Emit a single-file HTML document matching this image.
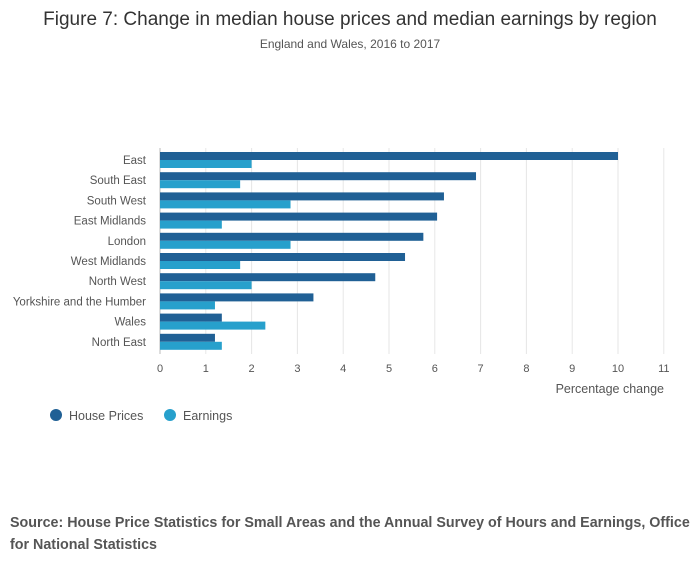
<!DOCTYPE html>
<html><head><meta charset="utf-8"><style>
body{margin:0;width:700px;height:574px;background:#fff;font-family:"Liberation Sans",sans-serif;overflow:hidden}
</style></head><body>
<svg width="700" height="574" xmlns="http://www.w3.org/2000/svg">
<text x="350" y="25" text-anchor="middle" font-size="19" fill="#333">Figure 7: Change in median house prices and median earnings by region</text>
<text x="350" y="48" text-anchor="middle" font-size="12" fill="#555">England and Wales, 2016 to 2017</text>
<g id="grid"></g><g id="bars"></g><g id="labels"></g>
<text x="664" y="393" text-anchor="end" font-size="12.5" fill="#555">Percentage change</text>
<circle cx="56" cy="415" r="6" fill="#206095"/>
<text x="69" y="420" font-size="12.5" fill="#555">House Prices</text>
<circle cx="170" cy="415" r="6" fill="#27a0cc"/>
<text x="183" y="420" font-size="12.5" fill="#555">Earnings</text>
<text x="10" y="527" font-size="14.3" font-weight="bold" fill="#555">Source: House Price Statistics for Small Areas and the Annual Survey of Hours and Earnings, Office</text>
<text x="10" y="549" font-size="14.3" font-weight="bold" fill="#555">for National Statistics</text>
</svg>
<script>
const regions=["East","South East","South West","East Midlands","London","West Midlands","North West","Yorkshire and the Humber","Wales","North East"];
const housePrices=[10.0,6.9,6.2,6.05,5.75,5.35,4.7,3.35,1.35,1.2];
const earnings=[2.0,1.75,2.85,1.35,2.85,1.75,2.0,1.2,2.3,1.35];
const ticks=[0,1,2,3,4,5,6,7,8,9,10,11];
const NS="http://www.w3.org/2000/svg";
const x=v=>160+v*45.8;
const rowY=i=>152+i*20.2;
function mk(t,a,p){const e=document.createElementNS(NS,t);for(const k in a)e.setAttribute(k,a[k]);document.getElementById(p).appendChild(e);return e;}
ticks.forEach(t=>{
 const l=mk('line',{x1:x(t),x2:x(t),y1:148,y2:354,stroke:t===0?'#bbb':'#e6e6e6','stroke-width':1},'grid');
 
 
 const tx=mk('text',{x:x(t),y:372,'text-anchor':'middle','font-size':11,fill:'#555'},'labels');
 tx.textContent=t;
 
 
});
regions.forEach((r,i)=>{
 const y=rowY(i);
 const b1=mk('rect',{x:x(0),y:y,width:x(housePrices[i])-x(0),height:8,fill:'#206095'},'bars');
 
 
 const b2=mk('rect',{x:x(0),y:y+8,width:x(earnings[i])-x(0),height:8,fill:'#27a0cc'},'bars');
 
 
 const t=mk('text',{x:146,y:y+12,'text-anchor':'end','font-size':11.5,fill:'#555'},'labels');
 t.textContent=r;
 
 
});
</script>
</body></html>
